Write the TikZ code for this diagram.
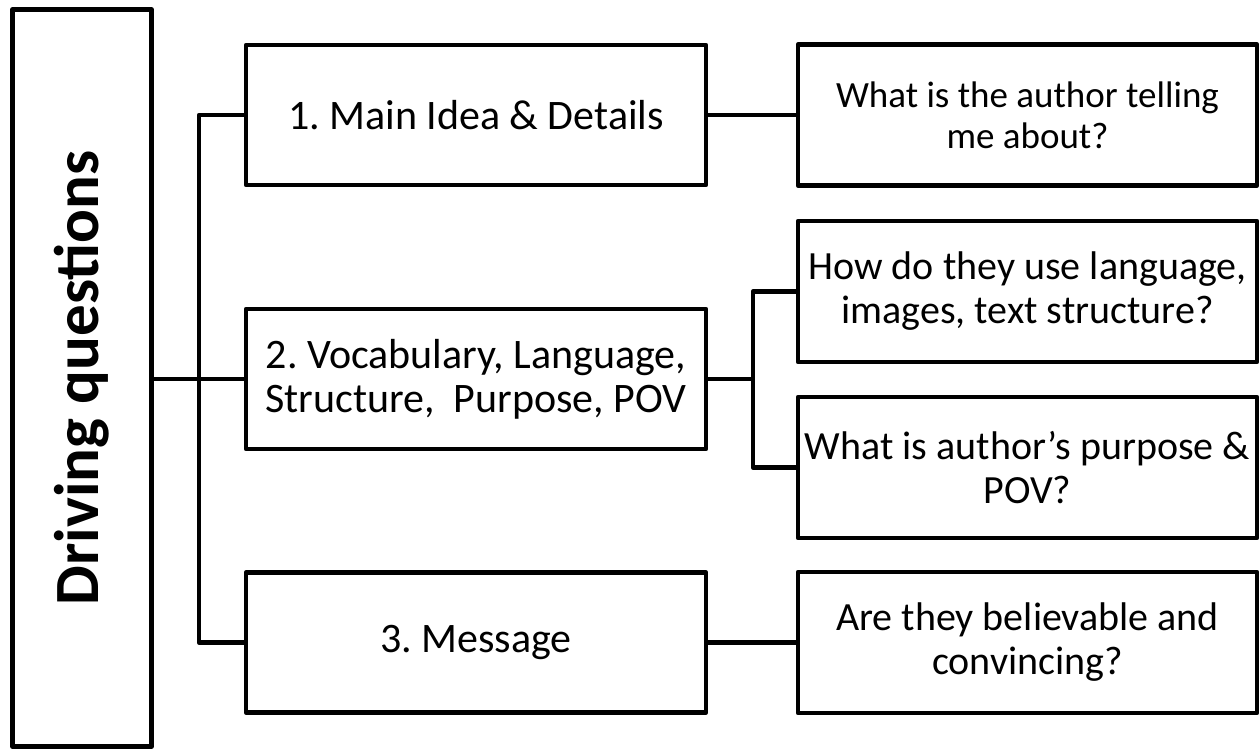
\documentclass[tikz,border=0pt]{standalone}
\usepackage{fontspec}
\setmainfont{Carlito}
\usepackage{tikz}
\frenchspacing

\begin{document}
\begin{tikzpicture}[x=1pt,y=-1pt,box/.style={draw=black,line width=4.5pt,line join=round,align=center,inner sep=0pt},boxM/.style={box,minimum width=460pt,minimum height=140pt,font=\fontsize{42}{44}\selectfont},boxQ/.style={box,minimum width=459pt,minimum height=141pt,font=\fontsize{40}{44}\selectfont}]
\def\xm{476};
\def\xq{1027.5};
\def\xa{199};
\def\xb{753};

\useasboundingbox (0,0) rectangle (1259,749);

\node[box,minimum width=139pt,minimum height=737pt] (DQ) at (82,378) {\rotatebox{90}{\fontsize{63}{70}\selectfont\bfseries Driving questions}};

\node[boxM] (M1) at (\xm,115) {1. Main Idea \& Details};
\node[boxM] (M2) at (\xm,379) {2. Vocabulary, Language,\\Structure,\ \ Purpose, POV};
\node[boxM] (M3) at (\xm,642.5) {3. Message};

\node[boxQ,font=\fontsize{37}{41}\selectfont] (Q1) at (\xq,115) {What is the author telling\\me about?};
\node[boxQ] (Q2) at (\xq,291.5) {How do they use language,\\images, text structure?};
\node[boxQ] (Q3) at (\xq,467.5) {What is author’s purpose \&\\POV?};
\node[boxQ] (Q4) at (\xq,642.5) {Are they believable and\\convincing?};

\coordinate (A) at (\xa,379);
\coordinate (B) at (\xb,379);
\draw[line width=4.5pt] (DQ.east |- M2.west) -- (M2.west);
\draw[line width=4.5pt,line join=round] (M1.west) -| (A) |- (M3.west);
\draw[line width=4.5pt] (M2.east) -- (B);
\draw[line width=4.5pt,line join=round] (Q2.west) -| (B) |- (Q3.west);
\draw[line width=4.5pt] (M1.east) -- (Q1.west);
\draw[line width=4.5pt] (M3.east) -- (Q4.west);
\end{tikzpicture}
\end{document}
